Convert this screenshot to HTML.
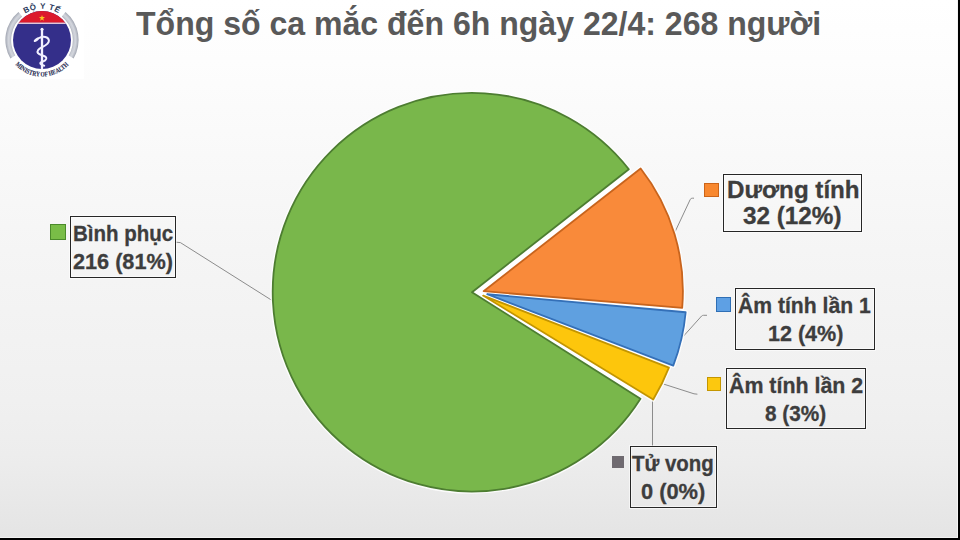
<!DOCTYPE html>
<html lang="vi">
<head>
<meta charset="utf-8">
<title>Tổng số ca mắc đến 6h ngày 22/4: 268 người</title>
<style>
html,body{margin:0;padding:0;overflow:hidden;}
body{width:960px;height:540px;overflow:hidden;position:relative;
  background:linear-gradient(180deg,#ffffff 0px,#fdfdfd 60px,#f5f5f5 250px,#f0f0f0 400px,#ededed 455px,#e4e4e4 540px);
  font-family:"Liberation Sans",Arial,sans-serif;}
.abs{position:absolute;}
#title{left:136px;top:3.5px;font-size:33.8px;transform:scaleX(0.948);transform-origin:0 0;font-weight:bold;color:#595959;white-space:nowrap;letter-spacing:0;}
.box{position:absolute;border:1.3px solid #262626;box-sizing:border-box;box-shadow:0 0 0 1px rgba(255,255,255,0.55),inset 0 0 0 1px rgba(255,255,255,0.55);}
.t{position:absolute;font-weight:bold;color:#3d3d3d;-webkit-text-stroke:0.3px #3d3d3d;white-space:nowrap;transform-origin:0 0;line-height:1;}
.sw{position:absolute;box-sizing:border-box;border:1.8px solid;}
#edgeR{left:958px;top:0;width:2px;height:540px;background:#000;}
#edgeB{left:0;top:538px;width:960px;height:2px;background:#000;}
#edgeR2{left:957px;top:0;width:1px;height:538px;background:#f4f4f4;}
#edgeB2{left:0;top:537px;width:958px;height:1px;background:#f2f2f2;}
</style>
</head>
<body>
<svg class="abs" style="left:0;top:0" width="960" height="540" viewBox="0 0 960 540">
  <!-- logo -->
  <rect x="0" y="0" width="84" height="79" fill="#ffffff"/>
  <defs>
    <radialGradient id="ring" gradientUnits="userSpaceOnUse" cx="42" cy="40" r="37">
      <stop offset="0.83" stop-color="#aeb2bc"/>
      <stop offset="0.865" stop-color="#c9ccd4"/>
      <stop offset="0.91" stop-color="#d3d6dd"/>
      <stop offset="0.96" stop-color="#b5b9c3"/>
      <stop offset="1" stop-color="#9a9eaa"/>
    </radialGradient>
    <path id="arcTop" d="M 10.7 40 A 31.3 31.3 0 0 1 73.3 40"/>
    <path id="arcBot" d="M 5.5 40 A 36.5 36.5 0 0 0 78.5 40"/>
  </defs>
  <g fill="url(#ring)">
    <path d="M 10.42 58.55 A 36.6 36.6 0 0 1 18.47 11.97 L 22.16 16.39 A 30.9 30.9 0 0 0 15.24 55.45 Z"/>
    <path d="M 73.58 58.55 A 36.6 36.6 0 0 0 65.53 11.97 L 61.84 16.39 A 30.9 30.9 0 0 1 68.76 55.45 Z"/>
  </g>
  <clipPath id="disk"><circle cx="42" cy="40" r="29"/></clipPath>
  <g clip-path="url(#disk)">
    <rect x="10" y="8" width="65" height="65" fill="#342f8a"/>
    <rect x="10" y="8" width="65" height="14.8" fill="#dc1a2c"/>
    <rect x="10" y="22.6" width="65" height="1.3" fill="#f4d6e0"/>
  </g>
  <polygon points="42,14.9 42.75,17.05 45.05,17.1 43.2,18.5 43.9,20.7 42,19.4 40.1,20.7 40.8,18.5 38.95,17.1 41.25,17.05" fill="#f7c51e"/>
  <!-- caduceus -->
  <g stroke="#f2f0ff" fill="none" stroke-linecap="round">
    <line x1="42" y1="29.5" x2="42" y2="68.5" stroke-width="2.3"/>
    <path d="M 39.5 37.8 C 43 35.8 48.4 36.6 48.9 40.4 C 49.3 44 44.5 46 41.5 47.5 C 38.5 49 36.6 51 38 53.2 C 39.5 55.2 45 55.4 46.2 57.6 C 47.3 60 43.5 61.3 41 62.3 C 39.6 62.9 40.3 64.6 44.2 65.8" stroke-width="2"/>
  </g>
  <circle cx="42" cy="29.3" r="1.5" fill="#f2f0ff"/>
  <ellipse cx="36.6" cy="39.6" rx="3.4" ry="1.4" transform="rotate(-38 36.6 39.6)" fill="#f2f0ff"/>
  <text font-family="Liberation Sans,sans-serif" font-size="8" font-weight="bold" fill="#2b3a5c"><textPath href="#arcTop" startOffset="50%" text-anchor="middle" letter-spacing="0.6">BỘ Y TẾ</textPath></text>
  <text font-family="Liberation Serif,serif" font-size="6.8" font-weight="bold" fill="#23284f" stroke="#23284f" stroke-width="0.12"><textPath href="#arcBot" startOffset="50%" text-anchor="middle" textLength="60" lengthAdjust="spacingAndGlyphs">MINISTRY OF HEALTH</textPath></text>

  <!-- leader lines -->
  <g fill="none" stroke="#8c8c8c" stroke-width="1">
    <polyline points="176,242.2 180.4,242.6 273.2,301.2"/>
    <path d="M 675 231.9 L 690.3 199.3 Q 691 198.2 692.5 198.2 L 694 198.2"/>
    <path d="M 683 336.7 L 701.6 316 Q 702.4 315.3 703.5 315.3 L 707 315.3"/>
    <polyline points="663.7,384.1 694,393.8 697.4,394.2"/>
    <line x1="652.5" y1="399.5" x2="652.5" y2="446"/>
  </g>

  <!-- pie -->
  <g id="pie">
<path d="M 472.00 292.20 L 628.03 170.30 A 198.0 198.0 0 0 1 639.36 398.00 Z" fill="#ffffff"/>
<g fill="#ffffff" stroke="#ffffff" stroke-width="4.6" stroke-linejoin="round" opacity="0.85">
<path d="M 472.00 292.20 L 640.46 398.70 A 199.3 199.3 0 1 1 628.84 169.22 Z"/>
<path d="M 483.60 291.20 L 640.65 168.50 A 199.3 199.3 0 0 1 682.20 307.88 Z"/>
<path d="M 487.20 294.20 L 685.68 312.26 A 199.3 199.3 0 0 1 673.26 365.62 Z"/>
<path d="M 483.10 295.60 L 668.91 367.67 A 199.3 199.3 0 0 1 653.21 399.44 Z"/>
</g>
<path d="M 472.00 292.20 L 640.46 398.70 A 199.3 199.3 0 1 1 628.84 169.22 Z" fill="#79b74b" stroke="#4d7d31" stroke-width="1.8" stroke-linejoin="round"/>
<path d="M 483.60 291.20 L 640.65 168.50 A 199.3 199.3 0 0 1 682.20 307.88 Z" fill="#f98a3a" stroke="#c8641d" stroke-width="1.8" stroke-linejoin="round"/>
<path d="M 487.20 294.20 L 685.68 312.26 A 199.3 199.3 0 0 1 673.26 365.62 Z" fill="#5fa0e0" stroke="#3470b8" stroke-width="1.8" stroke-linejoin="round"/>
<path d="M 483.10 295.60 L 668.91 367.67 A 199.3 199.3 0 0 1 653.21 399.44 Z" fill="#fdc60c" stroke="#c39500" stroke-width="1.8" stroke-linejoin="round"/>

  </g>
</svg>

<div id="title" class="abs">Tổng số ca mắc đến 6h ngày 22/4: 268 người</div>

<!-- labels -->
<div class="sw" style="left:50.1px;top:224.1px;width:15.8px;height:15.8px;background:#79bd47;border-color:#4b8a2b;"></div>
<div class="sw" style="left:704.1px;top:182.7px;width:14.8px;height:14.8px;background:#f8882f;border-color:#cc6418;"></div>
<div class="sw" style="left:715.8px;top:297.2px;width:14.8px;height:14.5px;background:#5ea0e4;border-color:#2f6fb5;"></div>
<div class="sw" style="left:706.7px;top:376.7px;width:14.8px;height:14.4px;background:#fcc80f;border-color:#c49600;"></div>
<div class="sw" style="left:612.0px;top:456.2px;width:12.0px;height:12.0px;background:#6f6a70;border-color:#6f6a70;"></div>
<div class="box" style="left:70.3px;top:216.3px;width:105.3px;height:62.1px;"></div>
<div class="box" style="left:723.4px;top:174.3px;width:138.3px;height:58.1px;"></div>
<div class="box" style="left:735.4px;top:288.1px;width:139.2px;height:62.0px;"></div>
<div class="box" style="left:726.3px;top:368.1px;width:139.4px;height:61.3px;"></div>
<div class="box" style="left:630.3px;top:446.3px;width:86.5px;height:61.9px;"></div>
<div class="t" style="left:73.43px;top:222.85px;font-size:21.2px;transform:scaleX(0.968);">Bình phục</div>
<div class="t" style="left:73.38px;top:251.35px;font-size:21.2px;transform:scaleX(1.022);">216 (81%)</div>
<div class="t" style="left:726.53px;top:178.59px;font-size:23.4px;transform:scaleX(1.033);">Dương tính</div>
<div class="t" style="left:742.92px;top:205.19px;font-size:23.4px;transform:scaleX(1.038);">32 (12%)</div>
<div class="t" style="left:737.90px;top:294.95px;font-size:21.2px;transform:scaleX(0.9979);">Âm tính lần 1</div>
<div class="t" style="left:767.98px;top:323.45px;font-size:21.2px;transform:scaleX(1.0164);">12 (4%)</div>
<div class="t" style="left:728.69px;top:374.55px;font-size:21.2px;transform:scaleX(1.0086);">Âm tính lần 2</div>
<div class="t" style="left:764.62px;top:402.85px;font-size:21.2px;transform:scaleX(0.9785);">8 (3%)</div>
<div class="t" style="left:632.13px;top:452.65px;font-size:21.2px;transform:scaleX(0.965);">Tử vong</div>
<div class="t" style="left:641.17px;top:481.05px;font-size:21.2px;transform:scaleX(1.03);">0 (0%)</div>


<div id="edgeR2" class="abs"></div>
<div id="edgeB2" class="abs"></div>
<div id="edgeR" class="abs"></div>
<div id="edgeB" class="abs"></div>
</body>
</html>
